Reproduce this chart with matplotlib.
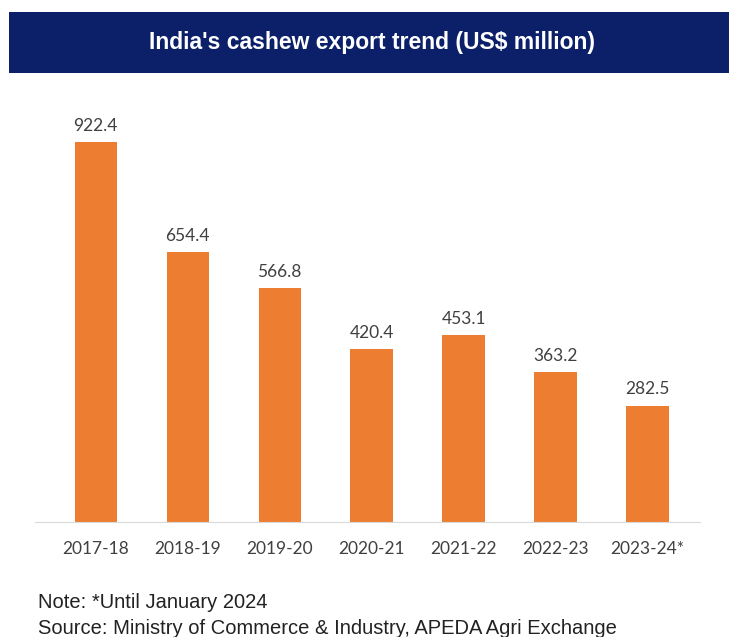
import matplotlib.pyplot as plt
from matplotlib.patches import Rectangle

years = ["2017-18", "2018-19", "2019-20", "2020-21", "2021-22", "2022-23", "2023-24*"]
exports = [922.4, 654.4, 566.8, 420.4, 453.1, 363.2, 282.5]

fig = plt.figure(figsize=(7.29, 6.37), dpi=100)
W, H = 729, 637

# title banner
fig.patches.append(Rectangle((9 / W, 1 - 73 / H), 1, 61 / H, transform=fig.transFigure,
                             facecolor="#0b2068", edgecolor="none", zorder=0))
fig.text(372 / W, 1 - 43 / H, "India's cashew export trend (US$ million)", color="white",
         fontsize=16.5, fontweight="bold", family="Liberation Sans", ha="center", va="center")

# axes: baseline at y=522, left 35, right 700
ax = fig.add_axes([35 / W, 1 - 522 / H, 665 / W, 422 / H])
x = range(len(years))
bars = ax.bar(x, exports, width=0.46, color="#ed7d31")
ax.set_xlim(-0.66, 6.57)
ax.set_ylim(0, 1024)
for i, v in enumerate(exports):
    ax.text(i, v + 20, f"{v:.1f}", ha="center", va="bottom", fontsize=12.5,
            family="Lato", color="#404040")

ax.set_xticks(list(x))
ax.set_xticklabels(years, fontsize=12.5, family="Lato", color="#404040")
ax.tick_params(axis="x", length=0, pad=14)
ax.set_yticks([])
for s in ["top", "left", "right"]:
    ax.spines[s].set_visible(False)
ax.spines["bottom"].set_color("#d9d9d9")

fig.text(38 / W, 1 - 602 / H, "Note: *Until January 2024", fontsize=14.5,
         family="Liberation Sans", color="#222222", va="center")
fig.text(38 / W, 1 - 628 / H, "Source: Ministry of Commerce & Industry, APEDA Agri Exchange",
         fontsize=14.5, family="Liberation Sans", color="#222222", va="center")

fig.savefig("out.png", dpi=100)
